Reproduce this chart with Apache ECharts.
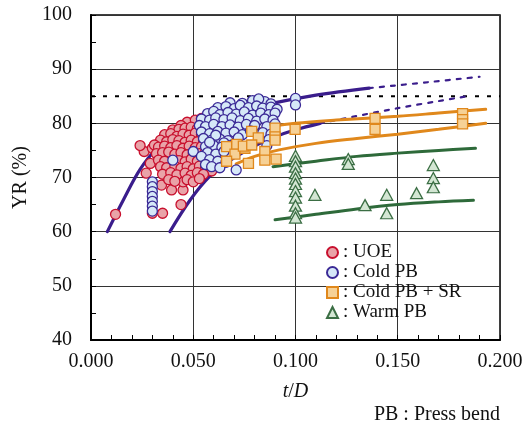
<!DOCTYPE html>
<html>
<head>
<meta charset="utf-8">
<script src="https://cdn.jsdelivr.net/npm/echarts@6/dist/echarts.min.js"></script>
<style>
html,body{margin:0;padding:0;background:#fff;}
#chart{width:531px;height:427px;}
</style>
</head>
<body>
<div id="chart"></div>
<script>
// ---- data ----
var xTicks = [0, 0.05, 0.10, 0.15, 0.20];
var yTicks = [40, 50, 60, 70, 80, 90, 100];

var uoe = [
  [0.012,63.2],[0.030,63.4],[0.035,63.4],[0.026,74.8],[0.030,75.4],[0.027,70.8],[0.0345,68.6],
  [0.0394,67.7],[0.045,67.7],[0.045,69.2],[0.044,65.0],[0.024,75.9],[0.029,72.6],
  [0.047,80.2],[0.051,80.6],[0.054,80.9],[0.044,79.6],[0.058,80.4],
  [0.040,78.8],[0.043,78.9],[0.046,79.1],[0.049,79.3],[0.052,79.0],[0.055,79.5],
  [0.036,77.9],[0.039,78.1],[0.042,77.6],[0.045,78.0],[0.048,77.8],[0.051,78.2],[0.054,77.9],[0.057,78.3],
  [0.034,76.9],[0.037,76.6],[0.040,77.0],[0.043,76.8],[0.046,76.5],[0.049,76.9],[0.052,76.6],[0.055,76.9],[0.059,77.1],
  [0.031,76.0],[0.033,75.6],[0.036,75.8],[0.039,75.5],[0.042,75.9],[0.045,75.4],[0.048,75.8],[0.051,75.5],[0.054,75.7],[0.057,75.9],
  [0.032,74.4],[0.035,74.6],[0.038,74.7],[0.041,74.3],[0.044,74.6],[0.047,74.2],[0.050,74.5],[0.053,74.4],[0.056,74.7],[0.060,74.2],
  [0.033,73.2],[0.036,73.0],[0.043,73.1],[0.046,72.9],[0.049,73.4],[0.052,73.0],[0.055,73.2],[0.058,73.5],
  [0.034,72.0],[0.037,71.8],[0.041,72.1],[0.044,71.7],[0.047,72.0],[0.050,71.6],[0.053,72.1],[0.056,71.9],[0.059,71.2],
  [0.035,70.6],[0.039,70.9],[0.042,70.5],[0.046,70.8],[0.049,70.4],[0.052,70.9],[0.055,70.6],
  [0.038,69.6],[0.041,69.3],[0.047,69.6],[0.050,69.2],[0.053,69.8]
];
var coldPB = [
  [0.030,69.2],[0.030,68.3],[0.030,67.4],[0.030,66.5],[0.030,65.6],[0.030,64.7],[0.030,63.8],
  [0.040,73.2],[0.050,74.8],[0.100,84.6],[0.100,83.4],
  [0.074,83.7],[0.079,84.2],[0.085,84.0],[0.088,83.6],[0.068,83.8],[0.082,84.5],
  [0.062,82.9],[0.066,83.1],[0.070,82.7],[0.073,83.3],[0.077,82.9],[0.081,83.2],[0.084,82.8],[0.088,83.0],[0.091,82.6],
  [0.057,81.8],[0.060,82.2],[0.063,81.6],[0.067,82.0],[0.071,81.7],[0.075,82.1],[0.079,81.5],[0.083,81.9],[0.087,81.6],[0.090,81.9],
  [0.054,80.8],[0.058,80.6],[0.061,81.0],[0.065,80.7],[0.069,81.0],[0.073,80.5],[0.077,80.9],[0.081,80.4],[0.085,80.8],[0.089,80.6],
  [0.053,79.6],[0.056,79.4],[0.060,79.8],[0.064,79.4],[0.068,79.7],[0.072,79.3],[0.076,79.8],[0.080,79.6],[0.086,79.4],[0.090,79.9],
  [0.054,78.4],[0.058,78.1],[0.062,78.5],[0.066,78.2],[0.070,78.4],[0.074,77.9],[0.084,78.3],[0.088,78.0],[0.078,78.6],
  [0.055,77.2],[0.059,76.9],[0.063,77.1],[0.067,76.8],[0.072,77.3],[0.087,77.0],[0.061,77.8],[0.065,76.4],
  [0.056,75.7],[0.060,75.9],[0.064,75.6],[0.069,76.0],[0.086,75.9],[0.058,76.5],
  [0.057,74.6],[0.061,74.3],[0.065,74.8],[0.054,73.9],
  [0.058,73.3],[0.062,73.0],[0.066,72.8],[0.056,72.4],
  [0.059,72.0],[0.063,71.8],[0.071,71.4]
];
var coldPBSR = [
  [0.0786,78.5],[0.0818,77.3],[0.090,79.1],[0.090,77.5],[0.090,76.9],[0.0712,76.1],[0.0663,75.7],
  [0.0704,74.3],[0.0753,75.4],[0.0663,73.0],[0.077,72.6],[0.085,74.8],[0.085,73.2],[0.0905,73.4],
  [0.0745,75.8],[0.0786,76.0],[0.0998,78.9],
  [0.1389,80.9],[0.1389,78.9],[0.1817,81.8],[0.1817,80.7],[0.1817,79.9]
];
var warmPB = [
  [0.100,74.0],[0.100,73.0],[0.100,72.0],[0.100,70.8],[0.100,69.8],[0.100,68.8],[0.100,67.5],
  [0.100,66.3],[0.100,64.8],[0.100,63.4],[0.100,62.6],
  [0.1095,66.8],[0.1258,73.4],[0.1258,72.5],[0.134,64.9],[0.1446,66.8],[0.1446,63.4],
  [0.1592,67.1],[0.1674,72.3],[0.1674,69.9],[0.1674,68.2]
];

var purpleUpper = [[0.008,60],[0.016,66],[0.024,71.5],[0.032,75.3],[0.042,78.3],[0.055,80.7],[0.07,82.2],[0.09,83.8],[0.11,85.2],[0.136,86.5]];
var purpleUpperExt = [[0.136,86.5],[0.165,87.6],[0.19,88.6]];
var purpleLower = [[0.0386,60],[0.0484,65.8],[0.058,70.2],[0.067,72.9],[0.08,75.8],[0.09,77.5],[0.1,78.8],[0.112,80.0]];
var purpleLowerExt = [[0.112,80.0],[0.15,82.8],[0.184,85.0]];
var orangeUpper = [[0.073,78.0],[0.085,79.2],[0.1,80.0],[0.12,80.6],[0.15,81.3],[0.17,81.9],[0.193,82.6]];
var orangeLower = [[0.071,72.5],[0.08,73.9],[0.092,75.1],[0.11,76.3],[0.13,77.2],[0.15,78.0],[0.17,78.9],[0.193,80.0]];
var greenUpper = [[0.089,72.0],[0.11,73.0],[0.13,73.9],[0.15,74.5],[0.17,75.0],[0.188,75.4]];
var greenLower = [[0.09,62.2],[0.11,63.2],[0.13,64.2],[0.15,65.0],[0.17,65.5],[0.187,65.8]];
var refLine = [[0,85],[0.2,85]];

var seriesNames = ['UOE', 'Cold PB', 'Cold PB + SR', 'Warm PB'];

// ---- chart ----
var FONT = '"Liberation Serif", "Times New Roman", serif';
var PURPLE = '#3a1d8c', ORANGE = '#e0881c', GREEN = '#2e6a3a';

function curve(data, color, width, dashed) {
  return {
    type: 'line', data: data, smooth: 0.35, showSymbol: false, silent: true, z: 1,
    lineStyle: { color: color, width: width, type: dashed ? [4, 7] : 'solid', cap: 'round' }
  };
}

var chart = echarts.init(document.getElementById('chart'), null, { renderer: 'canvas' });
chart.setOption({
  animation: false,
  backgroundColor: '#fff',
  grid: { left: 91, right: 31, top: 15, bottom: 87, show: true, borderColor: '#000', borderWidth: 1.5, backgroundColor: 'transparent' },
  legend: {
    orient: 'vertical', left: 321, top: 238, itemWidth: 11, itemHeight: 11, itemGap: 1,
    selectedMode: false,
    textStyle: { fontFamily: FONT, fontSize: 19, color: '#111', lineHeight: 18 },
    formatter: function (n) { return ': ' + n; },
    data: [
      { name: seriesNames[0], icon: 'circle' },
      { name: seriesNames[1], icon: 'circle' },
      { name: seriesNames[2], icon: 'rect' },
      { name: seriesNames[3], icon: 'triangle' }
    ]
  },
  xAxis: {
    type: 'value', min: xTicks[0], max: xTicks[xTicks.length - 1], interval: 0.05,
    name: '{i|t}{n|/}{i|D}', nameLocation: 'middle', nameGap: 42,
    nameTextStyle: { rich: { i: { fontFamily: FONT, fontStyle: 'italic', fontSize: 20, color: '#111' }, n: { fontFamily: FONT, fontSize: 20, color: '#111' } } },
    axisLine: { show: true, lineStyle: { color: '#000', width: 2 } },
    axisTick: { show: true, inside: true, length: 5, lineStyle: { color: '#000' } },
    minorTick: { show: true, splitNumber: 5, length: 5, lineStyle: { color: '#000' } },
    splitLine: { show: true, lineStyle: { color: '#333', width: 1 } },
    axisLabel: { fontFamily: FONT, fontSize: 20, color: '#111', margin: 12, formatter: function (v) { return v.toFixed(3); } }
  },
  yAxis: {
    type: 'value', min: yTicks[0], max: yTicks[yTicks.length - 1], interval: 10,
    name: 'YR (%)', nameLocation: 'middle', nameGap: 59, nameRotate: 90,
    nameTextStyle: { fontFamily: FONT, fontSize: 20, color: '#111' },
    axisLine: { show: true, lineStyle: { color: '#000', width: 2 } },
    axisTick: { show: true, inside: true, length: 5, lineStyle: { color: '#000' } },
    minorTick: { show: true, splitNumber: 2, length: 5, lineStyle: { color: '#000' } },
    splitLine: { show: true, lineStyle: { color: '#333', width: 1 } },
    axisLabel: { fontFamily: FONT, fontSize: 20, color: '#111', margin: 19 }
  },
  series: [
    { type: 'line', data: refLine, showSymbol: false, silent: true, z: 1, lineStyle: { color: '#000', width: 2, type: [4, 8] } },
    curve(purpleUpper, PURPLE, 3.2, false),
    curve(purpleUpperExt, PURPLE, 2.2, true),
    curve(purpleLower, PURPLE, 3.2, false),
    curve(purpleLowerExt, PURPLE, 2.2, true),
    curve(orangeUpper, ORANGE, 3, false),
    curve(orangeLower, ORANGE, 3, false),
    curve(greenUpper, GREEN, 3, false),
    curve(greenLower, GREEN, 3, false),
    { name: seriesNames[0], type: 'scatter', data: uoe, symbol: 'circle', symbolSize: 10, z: 3,
      itemStyle: { color: '#e9a3a8', borderColor: '#c8102e', borderWidth: 1.3, opacity: 1 } },
    { name: seriesNames[1], type: 'scatter', data: coldPB, symbol: 'circle', symbolSize: 10, z: 4,
      itemStyle: { color: '#d6e8f8', borderColor: '#3b2a96', borderWidth: 1.3, opacity: 1 } },
    { name: seriesNames[2], type: 'scatter', data: coldPBSR, symbol: 'rect', symbolSize: 10, z: 5,
      itemStyle: { color: '#f6d196', borderColor: '#e0881c', borderWidth: 1.3, opacity: 1 } },
    { name: seriesNames[3], type: 'scatter', data: warmPB, symbol: 'triangle', symbolSize: [12, 11], z: 5,
      itemStyle: { color: '#d3e6d3', borderColor: '#3b6e44', borderWidth: 1.3, opacity: 1 } }
  ],
  graphic: [
    { type: 'text', right: 31, top: 405, style: { text: 'PB : Press bend', fontFamily: FONT, fontSize: 20, fill: '#111' } }
  ]
});
</script>
</body>
</html>
